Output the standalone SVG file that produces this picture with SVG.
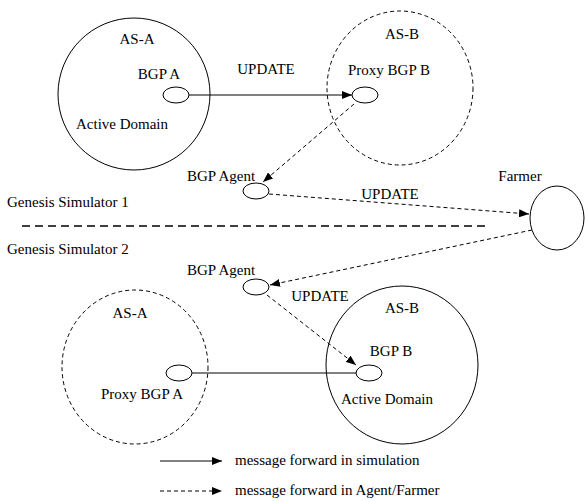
<svg xmlns="http://www.w3.org/2000/svg" width="585" height="501" viewBox="0 0 585 501">
<defs>
<marker id="arr" viewBox="0 0 10 8" refX="10" refY="4" markerWidth="10" markerHeight="8" markerUnits="userSpaceOnUse" orient="auto">
<path d="M0,0 L10,4 L0,8 Z" fill="#000"/>
</marker>
</defs>
<style>
text{font-family:'Times New Roman','Liberation Serif','DejaVu Serif',Times,serif;font-size:15px;fill:#000}
.solid{fill:none;stroke:#000;stroke-width:1}
.dash{fill:none;stroke:#000;stroke-width:1;stroke-dasharray:4 3}
.node{fill:#fff;stroke:#000;stroke-width:1}
</style>
<rect width="585" height="501" fill="#fff"/>
<g id="domain-top-asa">
<circle class="solid" cx="134" cy="94" r="76"/>
<text text-anchor="middle" x="137" y="44">AS-A</text>
<text text-anchor="middle" x="122" y="129">Active Domain</text>
</g>
<g id="domain-top-asb">
<ellipse class="dash" cx="400" cy="88" rx="73" ry="77"/>
<text text-anchor="middle" x="402" y="39">AS-B</text>
</g>
<g id="domain-bot-asa">
<ellipse class="dash" cx="135" cy="367" rx="73" ry="77"/>
<text text-anchor="middle" x="130" y="318">AS-A</text>
</g>
<g id="domain-bot-asb">
<ellipse class="solid" cx="402" cy="365" rx="76" ry="79"/>
<text text-anchor="middle" x="402" y="313">AS-B</text>
<text text-anchor="middle" x="387" y="404">Active Domain</text>
</g>

<g id="bgp-a">
<ellipse class="node" cx="176" cy="95" rx="13" ry="8"/>
<text text-anchor="middle" x="159" y="79">BGP A</text>
</g>
<g id="proxy-bgp-b">
<ellipse class="node" cx="365" cy="95" rx="13" ry="8"/>
<text text-anchor="middle" x="389" y="75">Proxy BGP B</text>
</g>
<g id="agent-1">
<ellipse class="node" cx="256" cy="191" rx="13" ry="8"/>
<text text-anchor="middle" x="221" y="181">BGP Agent</text>
</g>
<g id="farmer">
<ellipse class="node" cx="557" cy="218" rx="27" ry="32"/>
<text text-anchor="middle" x="520" y="181">Farmer</text>
</g>
<g id="agent-2">
<ellipse class="node" cx="256" cy="287" rx="13" ry="8"/>
<text text-anchor="middle" x="221" y="275">BGP Agent</text>
</g>
<g id="proxy-bgp-a">
<ellipse class="node" cx="179" cy="373" rx="13" ry="8"/>
<text text-anchor="middle" x="142" y="399">Proxy BGP A</text>
</g>
<g id="bgp-b">
<ellipse class="node" cx="369" cy="373" rx="13" ry="8"/>
<text text-anchor="middle" x="391" y="356">BGP B</text>
</g>

<g id="separator">
<line x1="22" y1="226" x2="487" y2="226" stroke="#000" stroke-width="1.3" stroke-dasharray="8 5"/>
<text x="7" y="207">Genesis Simulator 1</text>
<text x="7" y="254">Genesis Simulator 2</text>
</g>

<g id="connectors">
<line class="solid" x1="189" y1="95" x2="352" y2="95" marker-end="url(#arr)"/>
<text text-anchor="middle" x="266" y="74">UPDATE</text>
<line class="dash" x1="354" y1="104" x2="263" y2="182" marker-end="url(#arr)"/>
<line class="dash" x1="269" y1="194" x2="529" y2="214" marker-end="url(#arr)"/>
<text text-anchor="middle" x="390" y="199">UPDATE</text>
<line class="dash" x1="532" y1="230" x2="270" y2="285" marker-end="url(#arr)"/>
<line class="dash" x1="267" y1="295" x2="356" y2="365" marker-end="url(#arr)"/>
<text text-anchor="middle" x="320" y="301">UPDATE</text>
<line class="solid" x1="192" y1="373" x2="356" y2="373"/>
</g>

<g id="legend">
<line class="solid" x1="160" y1="461" x2="222" y2="461" marker-end="url(#arr)"/>
<text x="235" y="465">message forward in simulation</text>
<line class="dash" x1="160" y1="491" x2="222" y2="491" stroke-dasharray="2 2" marker-end="url(#arr)"/>
<text x="235" y="495">message forward in Agent/Farmer</text>
</g>
</svg>
